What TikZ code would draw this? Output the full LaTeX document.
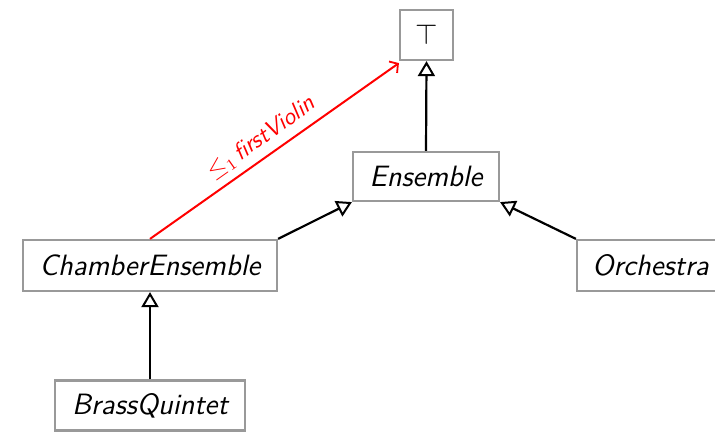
\documentclass[tikz,border=0pt]{standalone}
\usetikzlibrary{arrows.meta}
\begin{document}
\begin{tikzpicture}[x=0.5pt,y=-0.5pt,
  cls/.style={draw=black!40, line width=1.1pt, inner sep=0pt, font=\fontsize{14.7}{16}\sffamily\itshape, fill=white},
  isa/.style={draw=black, line width=1.1pt, -{Triangle[open,length=7.5pt,width=8.5pt,line width=1pt]}},
  rel/.style={draw=red, line width=1pt, -{Straight Barb[length=3pt,width=7pt,line width=0.9pt]}}]
\useasboundingbox (0,0) rectangle (715,432);
\node[cls, minimum width=26.5pt, minimum height=25pt] (top) at (426.5,35) {\upshape$\top$};
\node[cls, minimum width=73pt, minimum height=24.5pt] (ens) at (426,176.5) {Ensemble};
\node[cls, minimum width=127pt, minimum height=25.5pt] (ch) at (150,265.5) {ChamberEnsemble};
\node[cls, minimum width=73.5pt, minimum height=25.5pt] (orc) at (650.5,265.5) {Orchestra};
\node[cls, minimum width=95pt, minimum height=25pt] (bq) at (150,405.5) {BrassQuintet};
\draw[isa] (ens.north) -- (top.south);
\draw[isa] (ch.north east) -- (ens.south west);
\draw[isa] (orc.north west) -- (ens.south east);
\draw[isa] (bq.north) -- (ch.south);
\draw[rel] (ch.north) -- node[sloped, above, pos=0.49, inner sep=3.5pt, text=red, font=\fontsize{12}{14}\sffamily\itshape] (lbl) {$\leq_1$\,firstViolin} ([yshift=-1pt]top.south west);
\end{tikzpicture}
\end{document}
